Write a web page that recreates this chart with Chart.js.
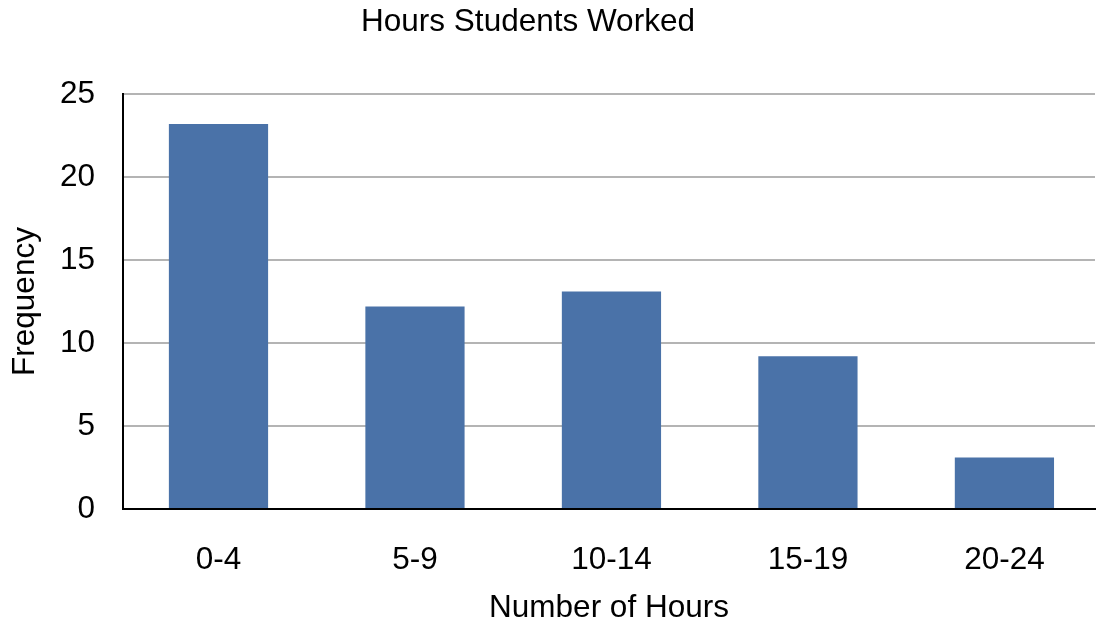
<!DOCTYPE html>
<html>
<head>
<meta charset="utf-8">
<script src="https://cdn.jsdelivr.net/npm/chart.js@4/dist/chart.umd.min.js"></script>
<style>
    html, body { margin: 0; padding: 0; background: #fff; }
    #wrap { width: 1098px; height: 625px; }
</style>
</head>
<body>
<div id="wrap"><canvas id="chart"></canvas></div>
<script>
// данные с картинки
const categories = ['0-4', '5-9', '10-14', '15-19', '20-24'];
const frequency = [23.2, 12.2, 13.1, 9.2, 3.1];
const yTicks = [0, 5, 10, 15, 20, 25];
const chartTitle = 'Hours Students Worked';

const FONT = 'Liberation Sans, Arial, sans-serif';
const FONT_SIZE = 31.5;

// Заголовок рисуем сами — в оригинале он смещён влево от центра
const titlePlugin = {
    id: 'offsetTitle',
    afterDraw(chart) {
        const c = chart.ctx;
        c.save();
        c.fillStyle = '#000';
        c.font = `${FONT_SIZE}px ${FONT}`;
        c.textAlign = 'center';
        c.textBaseline = 'middle';
        c.fillText(chartTitle, 528, 22.5);
        c.restore();
    },
};

const ctx = document.getElementById('chart').getContext('2d');
new Chart(ctx, {
    type: 'bar',
    data: {
        datasets: [{
            label: 'Frequency',
            data: frequency.map((v, i) => ({ x: i, y: v })),
            backgroundColor: '#4a72a8',
            borderWidth: 0,
            barPercentage: 0.505,
            categoryPercentage: 1.0,
        }],
    },
    plugins: [titlePlugin],
    options: {
        responsive: true,
        maintainAspectRatio: false,
        animation: false,
        layout: {
            padding: { left: 0, right: 3, top: 94, bottom: 0 },
        },
        plugins: {
            legend: { display: false },
            tooltip: { enabled: false },
            title: { display: false },
        },
        scales: {
            x: {
                type: 'linear',
                offset: false,
                min: -0.486,
                max: 4.461,
                afterBuildTicks: (scale) => {
                    scale.ticks = categories.map((_, i) => ({ value: i }));
                },
                grid: { display: false, drawTicks: false, offset: false },
                border: { display: true, color: '#000', width: 2 },
                ticks: {
                    color: '#000',
                    font: { family: FONT, size: FONT_SIZE },
                    padding: 32,
                    maxRotation: 0,
                    autoSkip: false,
                    callback: (value) => categories[value] ?? '',
                },
                title: {
                    display: true,
                    text: 'Number of Hours',
                    color: '#000',
                    font: { family: FONT, size: FONT_SIZE },
                    padding: { top: 0, bottom: -2 },
                },
                afterFit: (scale) => { scale.height = 116; },
            },
            y: {
                min: 0,
                max: 25,
                afterBuildTicks: (scale) => {
                    scale.ticks = yTicks.map(v => ({ value: v }));
                },
                grid: { color: '#b4b4b4', lineWidth: 2, drawTicks: false },
                border: { display: true, color: '#000', width: 2 },
                ticks: {
                    color: '#000',
                    font: { family: FONT, size: FONT_SIZE },
                    padding: 28,
                },
                title: {
                    display: true,
                    text: 'Frequency',
                    color: '#000',
                    font: { family: FONT, size: FONT_SIZE },
                    padding: { top: 6, bottom: 0 },
                },
                afterFit: (scale) => { scale.width = 123; },
            },
        },
    },
});
</script>
</body>
</html>
